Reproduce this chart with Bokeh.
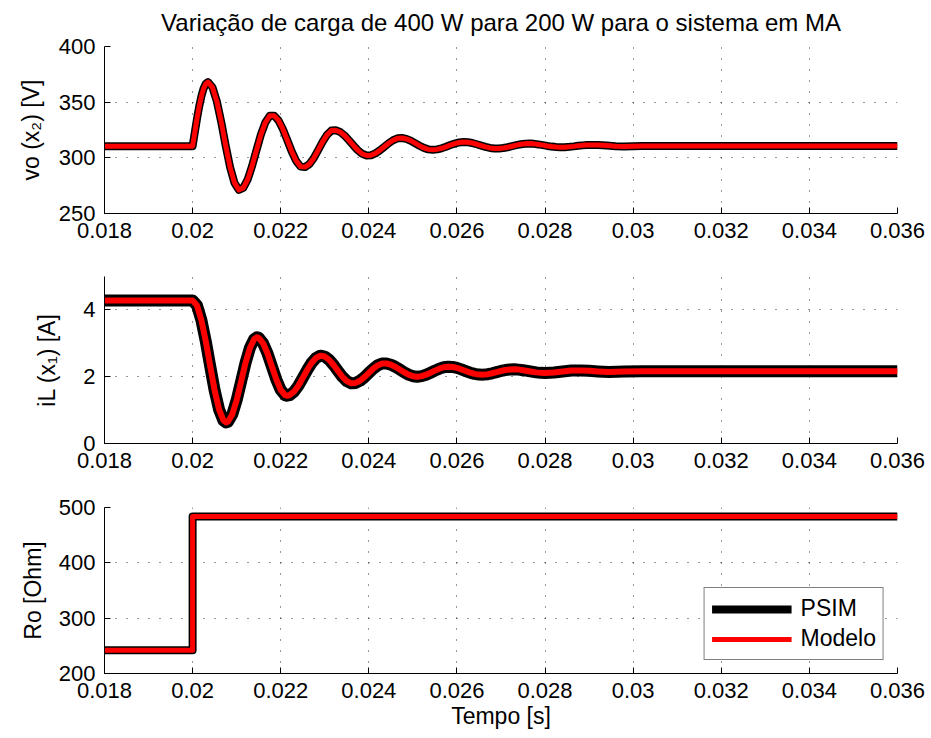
import numpy as np
from bokeh.plotting import figure
from bokeh.layouts import column
from bokeh.models import Range1d, FixedTicker, CustomJSTickFormatter
from bokeh.embed import file_html
from bokeh.resources import INLINE

# ---- data (time in ms) ----
t_vo_ms = [18.0, 20.0,
           20.05, 20.10, 20.15, 20.20, 20.25, 20.30, 20.35,
           20.45, 20.55, 20.65, 20.75, 20.85, 20.95, 21.05, 21.15, 21.25, 21.35,
           21.45, 21.55, 21.65, 21.75, 21.85, 21.95, 22.05, 22.15, 22.25, 22.35,
           22.45, 22.55, 22.65, 22.75, 22.85, 22.95, 23.05, 23.15, 23.25, 23.35,
           23.45, 23.55, 23.65, 23.75, 23.85, 23.95, 24.05, 24.15, 24.25, 24.35,
           24.45, 24.55, 24.65, 24.75, 24.85, 24.95, 25.05, 25.15, 25.25, 25.35,
           25.45, 25.55, 25.65, 25.75, 25.85, 25.95, 26.05, 26.15, 26.25, 26.35,
           26.45, 26.55, 26.65, 26.75, 26.85, 26.95, 27.05, 27.15, 27.25, 27.35,
           27.45, 27.55, 27.65, 27.75, 27.85, 27.95, 28.05, 28.15, 28.25, 28.35,
           28.45, 28.55, 28.65, 28.75, 28.85, 28.95, 29.05,
           29.2, 29.4, 29.6, 29.8, 30.2, 30.6, 31.0, 32.0, 34.0, 36.0]
vo_modelo = [310.5, 310.5,
             322.9, 335.2, 346.2, 355.4, 362.3, 366.6, 368.0,
             363.4, 350.7, 332.1, 311.1, 291.7, 277.5, 271.2, 273.0, 280.6, 292.7,
             306.9, 320.8, 331.7, 337.7, 337.9, 333.6, 325.7, 315.8, 305.7, 297.3,
             292.1, 291.7, 294.3, 299.7, 306.9, 314.3, 320.6, 324.5, 324.7, 323.2,
             320.0, 315.7, 311.1, 306.8, 303.6, 302.1, 302.3, 304.0, 306.7, 309.9,
             313.1, 315.8, 317.5, 317.8, 317.0, 315.4, 313.2, 310.9, 308.9, 307.6,
             307.2, 307.6, 308.6, 309.9, 311.5, 312.8, 313.8, 314.2, 314.0, 313.3,
             312.2, 311.0, 309.8, 308.9, 308.4, 308.35, 308.8, 309.5, 310.45, 311.4,
             312.2, 312.7, 312.8, 312.55, 312.05, 311.4, 310.7, 310.1, 309.65, 309.5,
             309.6, 309.9, 310.3, 310.8, 311.2, 311.5, 311.6,
             311.5, 311.0, 310.4, 310.2, 310.6, 310.7, 310.6, 310.6, 310.6, 310.6]
vo_psim = list(vo_modelo)

t_il_ms = [18.0, 20.0, 20.1, 20.2, 20.3, 20.4, 20.5, 20.6, 20.7, 20.76,
           20.8, 20.9, 21.0, 21.1, 21.2, 21.3, 21.4, 21.46, 21.5, 21.6,
           21.7, 21.8, 21.9, 22.0, 22.1, 22.14, 22.2, 22.3, 22.4, 22.5,
           22.6, 22.7, 22.8, 22.9, 23.0, 23.1, 23.2, 23.3, 23.4, 23.5,
           23.6, 23.7, 23.8, 23.9, 24.0, 24.1, 24.2, 24.3, 24.4, 24.5,
           24.6, 24.7, 24.8, 24.9, 25.0, 25.1, 25.2, 25.3, 25.4, 25.5,
           25.6, 25.7, 25.8, 25.9, 26.0, 26.1, 26.2, 26.3, 26.4, 26.5,
           26.6, 26.7, 26.8, 26.9, 27.0, 27.1, 27.2, 27.3, 27.4, 27.5,
           27.6, 27.7, 27.8, 27.9, 28.0, 28.2, 28.4, 28.6, 28.8, 29.0,
           29.2, 29.45, 29.8, 30.2, 31.0, 32.0, 34.0, 36.0]
il_modelo = [4.28, 4.28, 4.13, 3.69, 3.05, 2.31, 1.59, 1.02, 0.69, 0.63,
             0.65, 0.87, 1.30, 1.85, 2.41, 2.86, 3.13, 3.18, 3.165, 3.00,
             2.695, 2.305, 1.915, 1.607, 1.445, 1.43, 1.447, 1.55, 1.73, 1.96,
             2.20, 2.41, 2.56, 2.63, 2.604, 2.505, 2.35, 2.17, 1.997, 1.867,
             1.804, 1.814, 1.879, 1.985, 2.113, 2.239, 2.338, 2.393, 2.395, 2.36,
             2.298, 2.217, 2.133, 2.062, 2.015, 2.00, 2.017, 2.059, 2.118, 2.182,
             2.241, 2.283, 2.30, 2.291, 2.263, 2.22, 2.17, 2.121, 2.084, 2.063,
             2.062, 2.076, 2.103, 2.136, 2.171, 2.199, 2.216, 2.22, 2.212, 2.195,
             2.173, 2.15, 2.129, 2.115, 2.11, 2.124, 2.157, 2.185, 2.188, 2.178,
             2.158, 2.14, 2.155, 2.165, 2.16, 2.16, 2.16, 2.16]
il_psim = list(il_modelo)

t_ro_ms = [18.0, 20.0, 20.0, 36.0]
ro_modelo = [241.8, 241.8, 483.6, 483.6]
ro_psim = list(ro_modelo)

x_ticks = [0.018, 0.02, 0.022, 0.024, 0.026, 0.028, 0.03, 0.032, 0.034, 0.036]
vo_ticks = [250, 300, 350, 400]
il_ticks = [0, 2, 4]
ro_ticks = [200, 300, 400, 500]

TITLE = "Variação de carga de 400 W para 200 W para o sistema em MA"

FONT = "Liberation Sans"
TICK_FS = "22px"
LABEL_FS = "23px"
TITLE_FS = "24px"


def panel(height, top, bottom, yr, yticks, ylabel, label_gap, title=None):
    p = figure(width=931, height=height, output_backend="svg", toolbar_location=None,
               x_range=Range1d(0.018, 0.036), y_range=Range1d(*yr),
               min_border_left=104, min_border_right=34,
               min_border_top=top, min_border_bottom=bottom, title=title)
    p.outline_line_color = None
    p.background_fill_color = "white"
    p.border_fill_color = "white"
    p.xaxis.ticker = FixedTicker(ticks=x_ticks)
    p.yaxis.ticker = FixedTicker(ticks=yticks)
    p.xaxis.formatter = CustomJSTickFormatter(code="return String(Number(tick.toFixed(3)));")
    for ax in (p.xaxis[0], p.yaxis[0]):
        ax.axis_line_color = "black"
        ax.major_tick_line_color = "black"
        ax.major_tick_in = 6
        ax.major_tick_out = 0
        ax.minor_tick_line_color = None
        ax.major_label_text_font = FONT
        ax.major_label_text_font_size = TICK_FS
        ax.major_label_text_color = "black"
        ax.axis_label_text_font = FONT
        ax.axis_label_text_font_size = LABEL_FS
        ax.axis_label_text_font_style = "normal"
        ax.axis_label_text_color = "black"
    p.xaxis.major_label_standoff = 9
    p.yaxis.major_label_standoff = 9
    p.yaxis.axis_label = ylabel
    p.yaxis.axis_label_standoff = label_gap
    for g in (p.xgrid[0], p.ygrid[0]):
        g.grid_line_color = "#303030"
        g.grid_line_dash = "1 10"
        g.grid_line_width = 1
    if title:
        p.title.align = "center"
        p.title.text_font = FONT
        p.title.text_font_size = TITLE_FS
        p.title.text_font_style = "normal"
        p.title.text_color = "black"
        p.title.standoff = 22
    return p


def sec(ms):
    return np.asarray(ms) / 1000.0


# output voltage (the top figure is pulled up a little so its title sits high)
p1 = panel(259, 52, 40, (250, 400), vo_ticks, "vo (x\u2082) [V]", 12, title=TITLE)
p1.margin = (-6, 0, 0, 0)
p1.line(sec(t_vo_ms), vo_psim, line_color="black", line_width=8, line_join="round")
p1.line(sec(t_vo_ms), vo_modelo, line_color="red", line_width=5, line_join="round")

# inductor current
p2 = panel(230, 23, 40, (0, 5), il_ticks, "iL (x\u2081) [A]", 20)
p2.line(sec(t_il_ms), il_psim, line_color="black", line_width=12, line_join="round")
p2.line(sec(t_il_ms), il_modelo, line_color="red", line_width=6, line_join="round")

# load resistance
p3 = panel(255, 24, 65, (200, 500), ro_ticks, "Ro [Ohm]", 10)
p3.xaxis.axis_label = "Tempo [s]"
p3.xaxis.axis_label_standoff = 2
p3.line(sec(t_ro_ms), ro_psim, line_color="black", line_width=8, line_join="round",
        legend_label="PSIM")
p3.line(sec(t_ro_ms), ro_modelo, line_color="red", line_width=5, line_join="round",
        legend_label="Modelo")
lg = p3.legend[0]
lg.location = "bottom_right"
lg.margin = 13
lg.border_line_color = "black"
lg.border_line_width = 1
lg.background_fill_alpha = 1.0
lg.label_text_font = FONT
lg.label_text_font_size = LABEL_FS
lg.label_text_color = "black"
lg.glyph_width = 80
lg.glyph_height = 24
lg.label_height = 24
lg.label_standoff = 9
lg.padding = 7
lg.spacing = 3

layout = column(p1, p2, p3, spacing=0)
open("out.html", "w").write(file_html(layout, INLINE))
